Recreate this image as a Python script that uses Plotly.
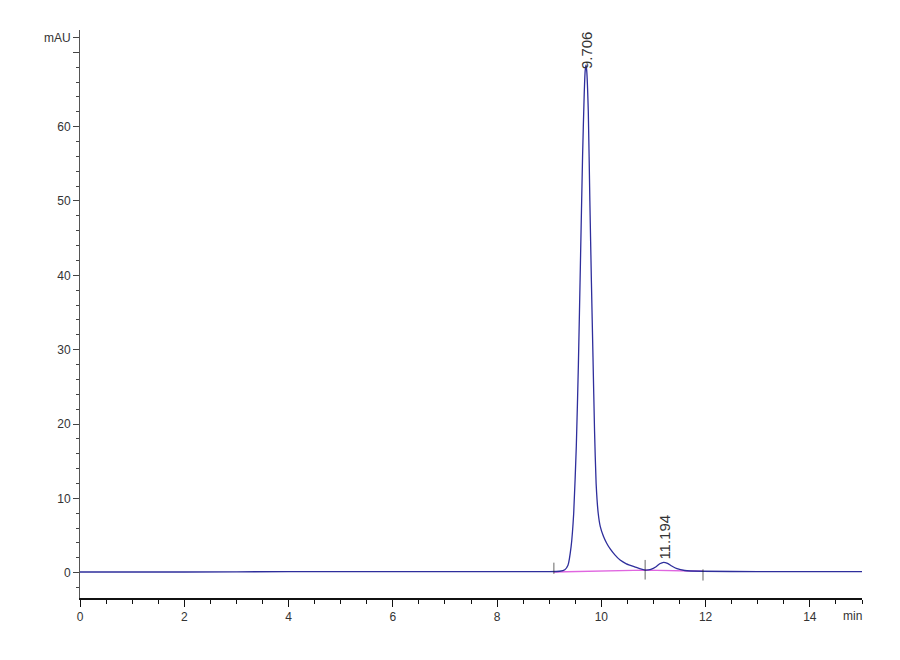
import plotly.graph_objects as go

# chromatogram signal (min, mAU)
time_min = [0, 2, 4, 6, 8, 9.0, 9.2, 9.3, 9.36, 9.42, 9.47, 9.52, 9.56, 9.60,
            9.64, 9.67, 9.69, 9.706, 9.72, 9.75, 9.78, 9.81, 9.84, 9.87, 9.90,
            9.94, 9.98, 10.04, 10.10, 10.17, 10.26, 10.36, 10.48, 10.64, 10.84,
            10.95, 11.05, 11.12, 11.194, 11.27, 11.35, 11.45, 11.6, 11.95, 13, 15]
signal_mau = [0.1, 0.1, 0.15, 0.15, 0.15, 0.15, 0.2, 0.4, 1.0, 3.5, 8, 17, 28, 42,
              56, 64, 67.5, 68.3, 67.5, 62, 50, 39, 29, 19, 12, 8, 6.2, 4.9,
              4.0, 3.2, 2.4, 1.7, 1.2, 0.8, 0.35, 0.45, 0.8, 1.2, 1.4, 1.25, 0.9,
              0.55, 0.3, 0.2, 0.15, 0.15]

# integration baseline and event marks
base_time = [9.09, 10.84, 11.95]
base_mau = [0.1, 0.35, 0.2]
event_mau = [0.6, 0.4, -0.3]

peak_times = [9.706, 11.194]
peak_labels = ['9.706', '11.194']
peak_label_y = [70.3, 4.8]

x_ticks = [0, 2, 4, 6, 8, 10, 12, 14]
y_ticks = [0, 10, 20, 30, 40, 50, 60, 70, 72]
y_tick_text = ['0', '10', '20', '30', '40', '50', '60', '', 'mAU']

fig = go.Figure()

fig.add_trace(go.Scatter(
    x=base_time, y=base_mau, mode='lines',
    line=dict(color='#e066e0', width=1.3), hoverinfo='skip'
))

fig.add_trace(go.Scatter(
    x=time_min, y=signal_mau, mode='lines',
    line=dict(color='#2e2e9c', width=1.3, shape='spline', smoothing=0.5)
))

fig.add_trace(go.Scatter(
    x=base_time, y=event_mau, mode='markers',
    marker=dict(symbol='line-ns-open', size=[8, 14, 8], color='#222222',
                line=dict(color='#222222', width=1)),
    hoverinfo='skip'
))

for t, lab, ly in zip(peak_times, peak_labels, peak_label_y):
    fig.add_annotation(x=t, y=ly, text=lab, textangle=-90, showarrow=False,
                       font=dict(family='Liberation Sans, Arial', size=15, color='#333333'))

fig.add_annotation(x=14.82, y=0, xref='x', yref='paper', yshift=-27,
                   text='min', showarrow=False,
                   font=dict(family='Liberation Sans, Arial', size=12, color='#333333'))

# page body adds an 8px offset, so margins are trimmed to match
fig.update_layout(
    width=900, height=660,
    margin=dict(l=72, r=46, t=22, b=70),
    plot_bgcolor='white', paper_bgcolor='white',
    showlegend=False,
    font=dict(family='Liberation Sans, Arial', size=12, color='#333333'),
)

fig.update_xaxes(
    range=[0, 15], tickvals=x_ticks, showgrid=False, zeroline=False,
    showline=True, linecolor='#111111', linewidth=2,
    ticks='outside', ticklen=7, tickcolor='#111111',
    minor=dict(dtick=0.5, tick0=0, ticks='outside', ticklen=4, tickcolor='#111111'),
)
fig.update_yaxes(
    range=[-3.4, 73], tickvals=y_ticks, ticktext=y_tick_text,
    showgrid=False, zeroline=False,
    showline=True, linecolor='#555555', linewidth=1,
    ticks='outside', ticklen=6, tickcolor='#444444',
    minor=dict(tickmode='linear', dtick=2, tick0=0, ticks='outside', ticklen=3, tickcolor='#444444'),
)

fig.write_html("out.html")
